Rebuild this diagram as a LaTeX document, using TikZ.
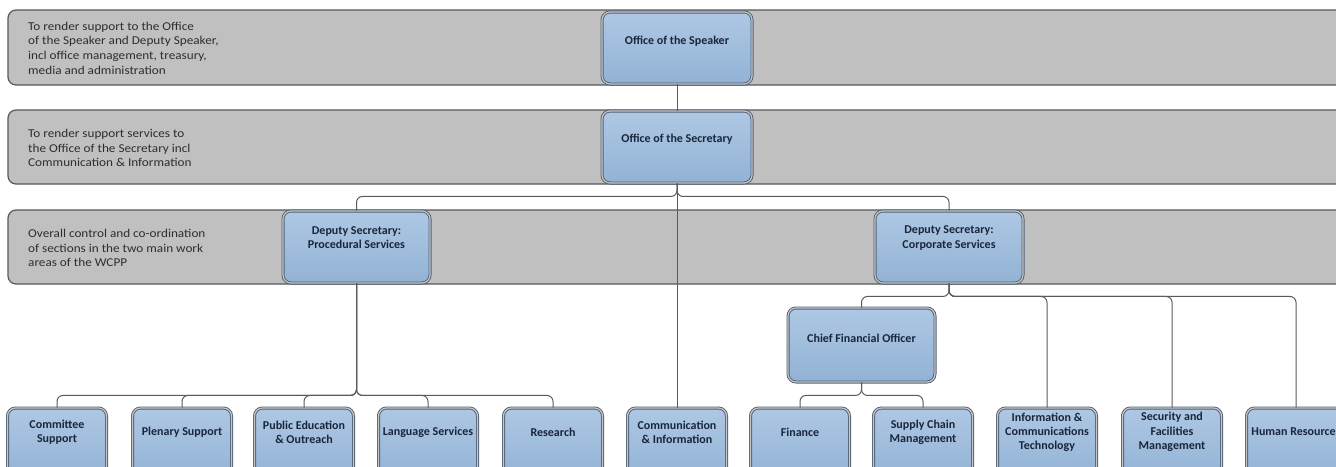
\documentclass[tikz,border=0pt]{standalone}
\usepackage{fontspec}
\setmainfont{Carlito}
\newfontfamily\bandfont{Carlito}[FakeStretch=1.1]
\usetikzlibrary{positioning}

\definecolor{bandgray}{RGB}{192,192,192}
\definecolor{bandline}{RGB}{88,88,88}
\definecolor{boxtop}{RGB}{174,200,228}
\definecolor{boxbot}{RGB}{146,178,213}
\definecolor{boxline}{RGB}{80,96,116}
\definecolor{linkgray}{RGB}{90,90,90}
\definecolor{boxink}{RGB}{25,38,58}

\tikzset{
  band/.style={draw=bandline, fill=bandgray, line width=1.2pt, rounded corners=8pt},
  bandtext/.style={anchor=west, align=left, inner sep=0pt, text=black!82,
    font=\bandfont\fontsize{12}{14.6}\selectfont},
  orgbox/.style={draw=boxline, double=gray!45, double distance=1.2pt, line width=0.9pt,
    rounded corners=8pt, top color=boxtop, bottom color=boxbot, minimum height=72pt, inner sep=0pt},
  orgtext/.style={align=center, inner sep=0pt, text=boxink,
    font=\bfseries\fontsize{12}{14.2}\selectfont},
  link/.style={draw=linkgray, line width=1pt, rounded corners=6pt},
}

\begin{document}
\begin{tikzpicture}[x=1pt, y=-1pt]
    \useasboundingbox (0,0) rectangle (1336,466);
    \clip (0,0) rectangle (1336,466);

    % bands
    \draw[band] (8,10) rectangle (1360,85);
    \draw[band] (8,110) rectangle (1360,184);
    \draw[band] (8,210) rectangle (1360,284);
    \node[bandtext] (aimSpeaker) at (28,48) {To render support to the Office\\of the Speaker and Deputy Speaker,\\incl office management, treasury,\\media and administration};
    \node[bandtext] (aimSecretary) at (28,148) {To render support services to\\the Office of the Secretary incl\\Communication \& Information};
    \node[bandtext] (aimDeputy) at (28,248) {Overall control and co-ordination\\of sections in the two main work\\areas of the WCPP};

    % top of the tree
    \node[orgbox, minimum width=150pt] (speaker) at (677,48) {};
    \node[orgtext] (speakerT) at (677,41) {Office of the Speaker};
    \node[orgbox, minimum width=150pt] (secretary) at (677,147) {};
    \node[orgtext] (secretaryT) at (677,139) {Office of the Secretary};
    \node[orgbox, minimum width=147pt] (dsproc) at (356.5,247) {};
    \node[orgtext] (dsprocT) at (356.5,238) {Deputy Secretary:\\Procedural Services};
    \node[orgbox, minimum width=148pt] (dscorp) at (949,247) {};
    \node[orgtext] (dscorpT) at (949,238) {Deputy Secretary:\\Corporate Services};
    \node[orgbox, minimum width=147pt, minimum height=74pt] (cfo) at (861.5,345) {};
    \node[orgtext] (cfoT) at (861.5,338) {Chief Financial Officer};

    % sections
    \foreach \nm/\cx/\txt in {cmt/57/{Committee\\Support}, plen/182/{Plenary Support},
        pub/304/{Public Education\\\& Outreach}, lang/428/{Language Services},
        res/553/{Research}, comm/677/{Communication\\\& Information},
        fin/800/{Finance}, scm/923/{Supply Chain\\Management},
        ict/1047/{Information \&\\Communications\\Technology},
        sfm/1172/{Security and\\Facilities\\Management}, hr/1296/{Human Resources}} {
        \node[orgbox, minimum width=99pt] (\nm) at (\cx,444) {};
        \node[orgtext] (\nm-t) at (\cx,432) {\txt};
    }

    % connectors
    \draw[link] (speaker.south) -- (secretary.north);
    \draw[link] (secretary.south) -- ++(0,13) -| (dsproc.north);
    \draw[link] (secretary.south) -- ++(0,13) -| (dscorp.north);
    \draw[link] (secretary.south) -- (comm.north);
    \foreach \c in {cmt,plen,pub,lang,res}
        \draw[link] (dsproc.south) -- ++(0,112) -| (\c.north);
    \foreach \c in {cfo,ict,sfm,hr}
        \draw[link] (dscorp.south) -- ++(0,13) -| (\c.north);
    \foreach \c in {fin,scm}
        \draw[link] (cfo.south) -- ++(0,13) -| (\c.north);
\end{tikzpicture}
\end{document}
